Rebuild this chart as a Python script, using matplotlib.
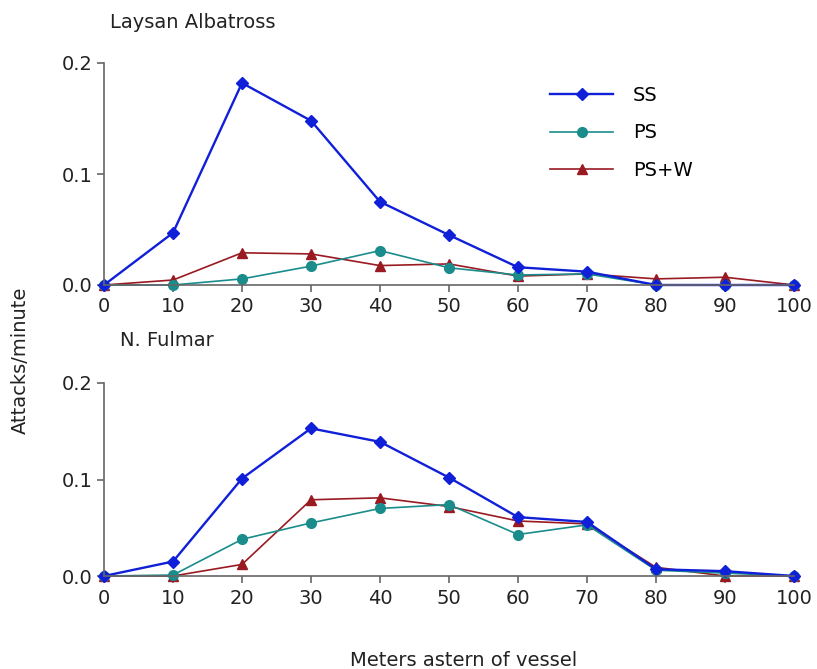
import matplotlib.pyplot as plt

plt.rcParams['font.family'] = ['DejaVu Sans']

# distance astern (m)
distance = [0, 10, 20, 30, 40, 50, 60, 70, 80, 90, 100]

# Laysan Albatross attack rates
albatross_ss = [0, 0.047, 0.182, 0.148, 0.075, 0.045, 0.016, 0.012, 0, 0, 0]
albatross_ps = [0, 0, 0.0055, 0.017, 0.031, 0.0155, 0.009, 0.010, 0, 0, 0]
albatross_psw = [0, 0.0045, 0.029, 0.028, 0.0175, 0.019, 0.008, 0.010, 0.0055, 0.007, 0]

# N. Fulmar attack rates
fulmar_ss = [0, 0.015, 0.101, 0.153, 0.139, 0.102, 0.061, 0.056, 0.007, 0.005, 0]
fulmar_ps = [0, 0.001, 0.038, 0.055, 0.070, 0.074, 0.043, 0.053, 0.006, 0.003, 0]
fulmar_psw = [0, 0, 0.012, 0.079, 0.081, 0.072, 0.057, 0.054, 0.009, 0, 0]

series_labels = ['SS', 'PS', 'PS+W']
colors = ['#1020d8', '#1a8c8c', '#9a1a22']
markers = ['D', 'o', '^']
msizes = [6, 7, 7]

W, H = 817, 669
fig = plt.figure(figsize=(W / 100, H / 100), dpi=100)
ax1 = fig.add_axes([104 / W, 1 - 285 / H, 690 / W, 222 / H])
ax2 = fig.add_axes([104 / W, 1 - 576 / H, 690 / W, 193 / H])

panels = [
    (ax1, [albatross_ss, albatross_ps, albatross_psw]),
    (ax2, [fulmar_ss, fulmar_ps, fulmar_psw]),
]

fs = 14
for ax, data in panels:
    # draw in reverse so SS sits on top
    for vals, lab, c, m, ms in reversed(list(zip(data, series_labels, colors, markers, msizes))):
        lw = 1.7 if lab == 'SS' else 1.2
        ax.plot(distance, vals, color=c, marker=m, markersize=ms, lw=lw,
                label=lab, clip_on=False)
    ax.set_xlim(0, 100)
    ax.set_ylim(0, 0.2)
    ax.set_xticks(distance)
    ax.set_yticks([0, 0.1, 0.2])
    ax.set_yticklabels(['0.0', '0.1', '0.2'])
    for s in ['top', 'right']:
        ax.spines[s].set_visible(False)
    for s in ['left', 'bottom']:
        ax.spines[s].set_color('#666666')
        ax.spines[s].set_linewidth(1.2)
    ax.tick_params(axis='both', labelsize=fs, colors='#666666', labelcolor='#222222',
                   length=5, width=1.2)
    ax.tick_params(axis='x', pad=4)
    ax.tick_params(axis='y', pad=3)

fig.text(110 / W, 1 - 23 / H, 'Laysan Albatross', ha='left', va='center',
         fontsize=fs, color='#222222')
fig.text(120 / W, 1 - 340 / H, 'N. Fulmar', ha='left', va='center',
         fontsize=fs, color='#222222')

handles, labels = ax1.get_legend_handles_labels()
ax1.legend(handles[::-1], labels[::-1], loc='upper left',
           bbox_to_anchor=(550 / W, 1 - 86 / H), bbox_transform=fig.transFigure,
           frameon=False, fontsize=fs, handlelength=3.25, labelspacing=0.95,
           handletextpad=1.0, borderpad=0, borderaxespad=0)

fig.text(20 / W, 1 - 360 / H, 'Attacks/minute', rotation=90, ha='center', va='center',
         fontsize=fs, color='#222222')
fig.text(464 / W, 1 - 660 / H, 'Meters astern of vessel', ha='center', va='center',
         fontsize=fs, color='#222222')

fig.savefig('out.png', dpi=100)
